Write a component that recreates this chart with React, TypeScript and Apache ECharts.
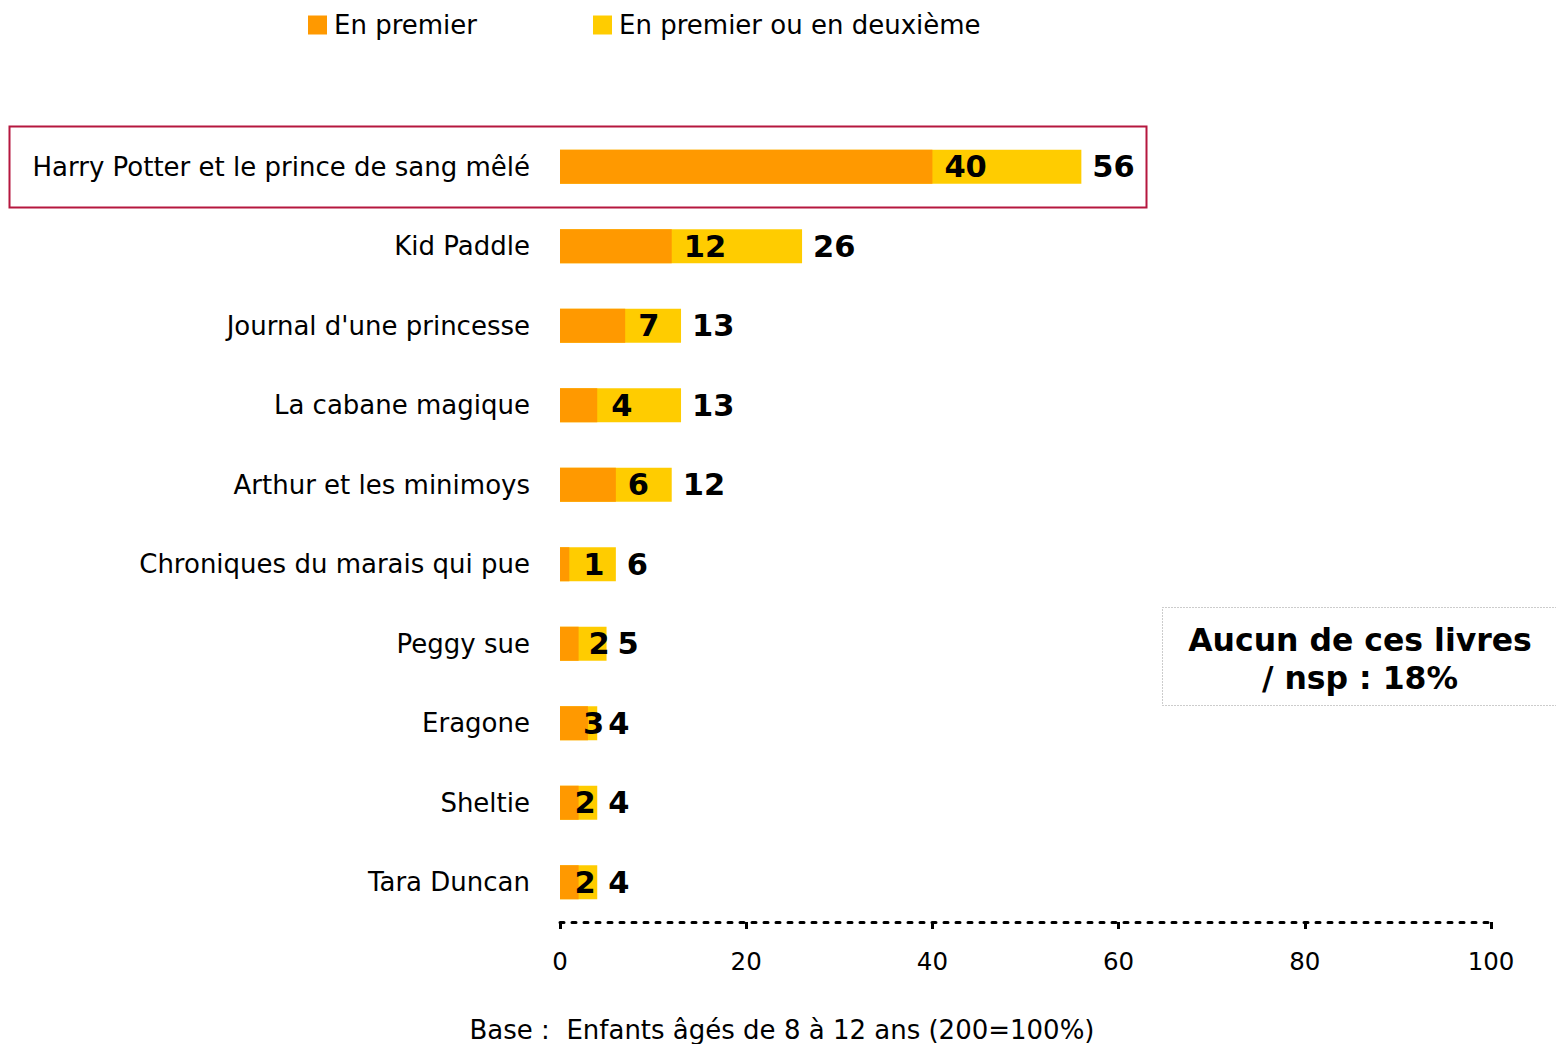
import React, { useEffect, useRef } from "react";
import * as echarts from "echarts";

const categories = [
  "Harry Potter et le prince de sang mêlé",
  "Kid Paddle",
  "Journal d'une princesse",
  "La cabane magique",
  "Arthur et les minimoys",
  "Chroniques du marais qui pue",
  "Peggy sue",
  "Eragone",
  "Sheltie",
  "Tara Duncan",
];
const premier = [40, 12, 7, 4, 6, 1, 2, 3, 2, 2];
const premierOuDeuxieme = [56, 26, 13, 13, 12, 6, 5, 4, 4, 4];
const xTicks = [0, 20, 40, 60, 80, 100];
const legendNames = ["En premier", "En premier ou en deuxième"];
const noteLines = ["Aucun de ces livres", "/ nsp : 18%"];
const footer = "Base :  Enfants âgés de 8 à 12 ans (200=100%)";

// label nudges (style only) for the "En premier" labels
const premierLabelDistance = [12, 12, 13, 14, 12, 14, 10, -5, -4, -4];

const FONT = "'DejaVu Sans', Verdana, sans-serif";

export default function App() {
  const ref = useRef<HTMLDivElement>(null);
  useEffect(() => {
    document.body.style.margin = "0";
    const chart = echarts.init(ref.current!, null, { renderer: "svg" });
    chart.setOption({
      animation: false,
      backgroundColor: "#fff",
      textStyle: { fontFamily: FONT },
      legend: {
        left: 308,
        top: 12,
        padding: 0,
        itemWidth: 19,
        itemHeight: 19,
        itemGap: 116,
        icon: "rect",
        data: legendNames,
        textStyle: { fontSize: 26, color: "#000", fontFamily: FONT, padding: [0, 0, 0, 2] },
      },
      grid: { left: 560, right: 65, top: 127, bottom: 122, containLabel: false },
      xAxis: {
        type: "value",
        min: xTicks[0],
        max: xTicks[xTicks.length - 1],
        interval: xTicks[1] - xTicks[0],
        splitLine: { show: false },
        axisLine: { show: true, lineStyle: { color: "#000", width: 3, type: [4, 8] } },
        axisTick: { show: true, length: 7, lineStyle: { color: "#000", width: 3 } },
        axisLabel: { fontSize: 24.5, color: "#000", margin: 27, fontFamily: FONT },
      },
      yAxis: {
        type: "category",
        inverse: true,
        data: categories,
        axisLine: { show: false },
        axisTick: { show: false },
        axisLabel: { fontSize: 26, color: "#000", margin: 30, fontFamily: FONT },
      },
      series: [
        {
          name: legendNames[1],
          type: "bar",
          data: premierOuDeuxieme,
          barWidth: 34,
          itemStyle: { color: "#FFCC00" },
          label: {
            show: true,
            position: "right",
            distance: 11,
            fontSize: 30.5,
            fontWeight: "bold",
            color: "#000",
            fontFamily: FONT,
          },
          z: 1,
        },
        {
          name: legendNames[0],
          type: "bar",
          barGap: "-100%",
          barWidth: 34,
          data: premier.map((v, i) => ({
            value: v,
            label: { distance: premierLabelDistance[i] },
          })),
          itemStyle: { color: "#FF9900" },
          label: {
            show: true,
            position: "right",
            distance: 12,
            fontSize: 30.5,
            fontWeight: "bold",
            color: "#000",
            fontFamily: FONT,
          },
          z: 2,
        },
      ],
      graphic: [
        {
          type: "rect",
          shape: { x: 9.5, y: 126.5, width: 1137, height: 81 },
          style: { fill: "none", stroke: "#B5173F", lineWidth: 2 },
          z: 10,
        },
        {
          type: "rect",
          shape: { x: 1162.5, y: 607.5, width: 400, height: 98 },
          style: { fill: "#fff", stroke: "#999", lineWidth: 1, lineDash: [1, 2] },
          z: 10,
        },
        {
          type: "text",
          x: 1360,
          y: 640,
          style: {
            text: noteLines[0],
            fontSize: 31.5,
            fontWeight: "bold",
            fill: "#000",
            fontFamily: FONT,
            align: "center",
            verticalAlign: "middle",
          },
          z: 11,
        },
        {
          type: "text",
          x: 1360,
          y: 678,
          style: {
            text: noteLines[1],
            fontSize: 31.5,
            fontWeight: "bold",
            fill: "#000",
            fontFamily: FONT,
            align: "center",
            verticalAlign: "middle",
          },
          z: 11,
        },
        {
          type: "text",
          x: 782,
          y: 1030,
          style: {
            text: footer,
            fontSize: 26,
            fill: "#000",
            fontFamily: FONT,
            align: "center",
            verticalAlign: "middle",
          },
        },
      ],
    });
    return () => chart.dispose();
  }, []);
  return (
    <div
      ref={ref}
      style={{ position: "absolute", left: 0, top: 0, width: 1556, height: 1044 }}
    />
  );
}
